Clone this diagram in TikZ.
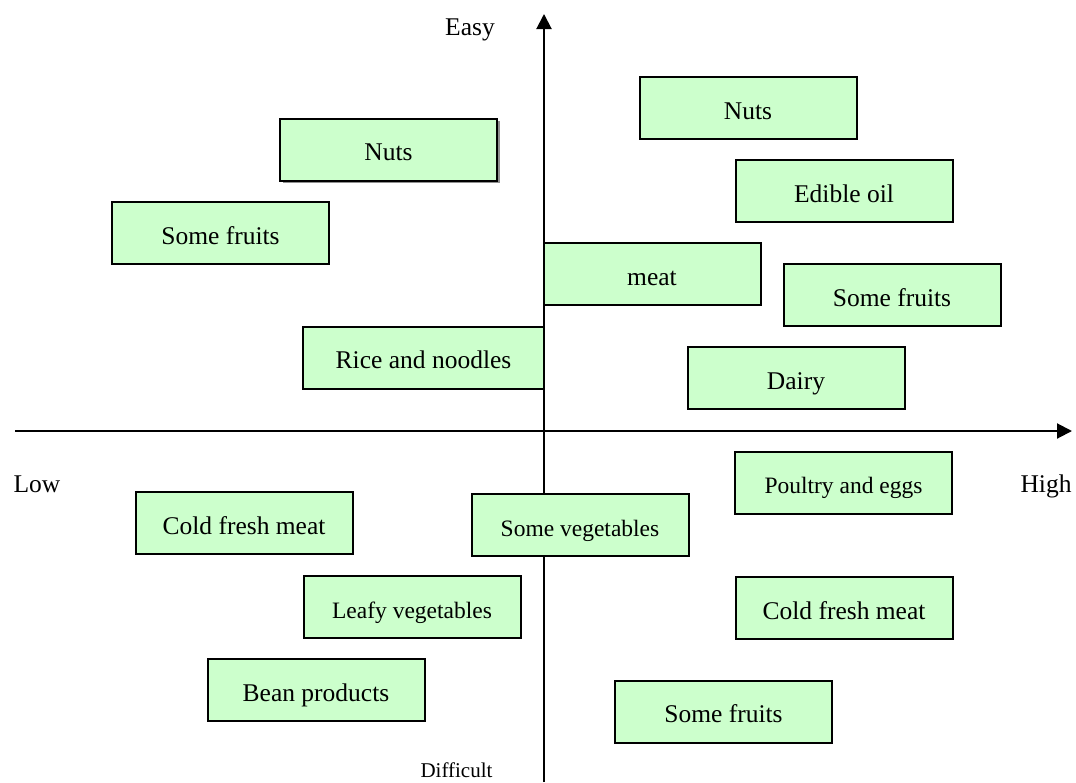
\documentclass[tikz,border=0pt]{standalone}
\usepackage{fontspec}
\setmainfont{Liberation Serif}
\usetikzlibrary{arrows.meta,shadows}
\definecolor{boxgreen}{HTML}{CCFFCC}
\tikzset{
  fbox/.style={draw=black, line width=2pt, fill=boxgreen, inner sep=0pt,
    minimum width=217pt, minimum height=62pt, text height=23pt, text depth=1pt,
    font=\fontsize{25.5}{30}\selectfont},
  smallfbox/.style={fbox, font=\fontsize{23.5}{28}\selectfont},
  axis/.style={line width=2pt, -{Triangle[width=15pt,length=15pt]}},
  axislabel/.style={inner sep=0pt, anchor=base, font=\fontsize{25.5}{30}\selectfont},
  shadowed/.style={drop shadow={shadow xshift=2.5pt, shadow yshift=-2.5pt, fill=black!55, opacity=0.8}}
}
\begin{document}
\begin{tikzpicture}[x=1pt,y=-1pt]
\useasboundingbox[fill=white] (0,0) rectangle (1076,782);
% axes
\coordinate (vbot) at (544,782);
\coordinate (vtop) at (544,14);
\coordinate (hleft) at (15,431);
\coordinate (hright) at (1072,431);
\draw[axis] (vbot) -- (vtop);
\draw[axis] (hleft) -- (hright);
% labels
\node[axislabel] (easy) at (470,35) {Easy};
\node[axislabel] (low) at (37,492) {Low};
\node[axislabel] (high) at (1046,492) {High};
\node[axislabel, font=\fontsize{21}{25}\selectfont] (difficult) at (456.5,777) {Difficult};
% boxes
\node[fbox, shadowed] (nutsL) at (388.5,149.5) {Nuts};
\node[fbox] (fruitsL) at (220.5,233) {Some fruits};
\node[fbox, minimum width=241pt] (rice) at (423.5,357.5) {Rice and noodles};
\node[fbox] (nutsR) at (748,108) {Nuts};
\node[fbox] (oil) at (844,191) {Edible oil};
\node[fbox] (meat) at (652,274) {meat};
\node[fbox] (fruitsR) at (892,295) {Some fruits};
\node[fbox] (dairy) at (796,378) {Dairy};
\node[smallfbox] (poultry) at (843.5,482.5) {Poultry and eggs};
\node[fbox] (coldL) at (244,523) {Cold fresh meat};
\node[smallfbox] (veg) at (580,525) {Some vegetables};
\node[smallfbox] (leafy) at (412,607) {Leafy vegetables};
\node[fbox] (coldR) at (844,608) {Cold fresh meat};
\node[fbox] (bean) at (316,690) {Bean products};
\node[fbox] (fruitsB) at (723.5,711.5) {Some fruits};
\end{tikzpicture}
\end{document}
